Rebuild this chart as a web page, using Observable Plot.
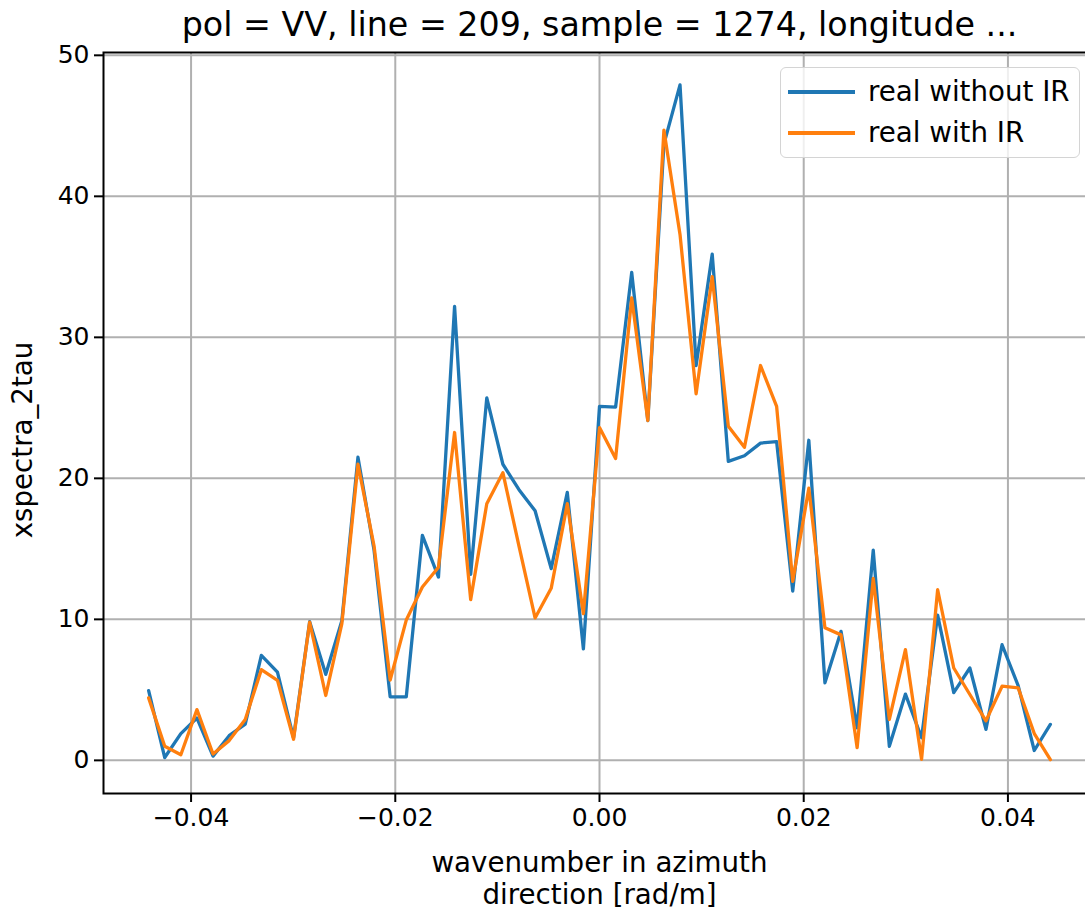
<!DOCTYPE html>
<html>
<head>
<meta charset="utf-8">
<script src="https://cdn.jsdelivr.net/npm/d3@7"></script>
<script src="https://cdn.jsdelivr.net/npm/@observablehq/plot@0.6"></script>
<style>
  html, body { margin: 0; padding: 0; overflow: hidden; background: white; }
  #wrap { position: relative; width: 1085px; height: 914px; overflow: hidden; }
  #legend {
    position: absolute; left: 780px; top: 67px; width: 300px; height: 91px;
    box-sizing: border-box; border: 1.5px solid #d4d4d4; border-radius: 6px;
    background: rgba(255,255,255,0.8);
    font-family: "DejaVu Sans", sans-serif; font-size: 27.7px; color: #000;
  }
  .item { position: absolute; left: 0; height: 32px; width: 100%; }
  .item .sw { position: absolute; left: 7px; width: 67px; height: 3.5px; top: 14px; }
  .item .lb { position: absolute; left: 87px; top: 0; line-height: 32px; white-space: nowrap; }
</style>
</head>
<body>
<div id="wrap"></div>
<script>
// wavenumber in azimuth direction [rad/m]
const kAz = [
  -0.044156, -0.042579, -0.041002, -0.039425, -0.037848, -0.036271, -0.034694, -0.033117,
  -0.031540, -0.029963, -0.028386, -0.026809, -0.025232, -0.023655, -0.022078, -0.020501,
  -0.018924, -0.017347, -0.015770, -0.014193, -0.012616, -0.011039, -0.009462, -0.007885,
  -0.006308, -0.004731, -0.003154, -0.001577, 0,
  0.001577, 0.003154, 0.004731, 0.006308, 0.007885, 0.009462, 0.011039, 0.012616,
  0.014193, 0.015770, 0.017347, 0.018924, 0.020501, 0.022078, 0.023655, 0.025232,
  0.026809, 0.028386, 0.029963, 0.031540, 0.033117, 0.034694, 0.036271, 0.037848,
  0.039425, 0.041002, 0.042579, 0.044156
];
const realWithoutIR = [
  4.95, 0.2, 1.9, 3.0, 0.3, 1.75, 2.57, 7.45, 6.26, 1.6,
  9.83, 6.1, 9.9, 21.5, 14.9, 4.5, 4.5, 15.95, 13.0, 32.2,
  13.2, 25.7, 21.0, 19.2, 17.7, 13.6, 19.0, 7.9, 25.1, 25.05,
  34.6, 24.1, 43.7, 47.9, 28.0, 35.9, 21.2, 21.6, 22.5, 22.6,
  12.0, 22.7, 5.5, 9.15, 2.3, 14.9, 1.0, 4.7, 1.6, 10.3,
  4.8, 6.55, 2.2, 8.2, 5.3, 0.7, 2.55
];
const realWithIR = [
  4.43, 1.0, 0.4, 3.6, 0.45, 1.4, 2.9, 6.43, 5.67, 1.5,
  9.8, 4.6, 9.7, 21.0, 15.2, 5.7, 9.95, 12.3, 13.7, 23.25,
  11.4, 18.2, 20.4, 15.2, 10.1, 12.2, 18.2, 10.4, 23.6, 21.4,
  32.8, 24.1, 44.7, 37.3, 26.0, 34.3, 23.7, 22.2, 28.0, 25.1,
  12.7, 19.3, 9.4, 8.9, 0.9, 12.9, 2.9, 7.85, 0.07, 12.1,
  6.55, 4.67, 2.8, 5.26, 5.14, 1.9, 0.05
];
const seriesNames = ["real without IR", "real with IR"];
const seriesColors = ["#1f77b4", "#ff7f0e"];
const xTicks = [-0.04, -0.02, 0, 0.02, 0.04];
const yTicks = [0, 10, 20, 30, 40, 50];
const titleText = "pol = VV, line = 209, sample = 1274, longitude ...";
const xLabel = "wavenumber in azimuth\ndirection [rad/m]";
const yLabel = "xspectra_2tau";

const rows = [];
[realWithoutIR, realWithIR].forEach((vals, s) => {
  vals.forEach((v, i) => rows.push({k: kAz[i], v, s: seriesNames[s]}));
});

const fmtX = d3.format(".2f");
const font = "DejaVu Sans, sans-serif";

const chart = Plot.plot({
  width: 1095,
  height: 914,
  marginLeft: 103,
  marginRight: 0,
  marginTop: 52,
  marginBottom: 121,
  style: {fontFamily: font, fontSize: "25px", background: "white", maxWidth: "none", overflow: "hidden"},
  x: {domain: [-0.048576, 0.048576]},
  y: {domain: [-2.35, 50.2]},
  color: {domain: seriesNames, range: seriesColors},
  marks: [
    Plot.gridX(xTicks, {stroke: "#b0b0b0", strokeOpacity: 1, strokeWidth: 2}),
    Plot.gridY(yTicks, {stroke: "#b0b0b0", strokeOpacity: 1, strokeWidth: 2}),
    Plot.axisX(xTicks, {tickSize: 9, tickPadding: 6, strokeWidth: 2, tickFormat: fmtX, fontSize: 25, label: null, fill: "#000"}),
    Plot.axisY(yTicks, {tickSize: 9, tickPadding: 5, strokeWidth: 2, tickFormat: d3.format("d"), fontSize: 25, label: null, fill: "#000"}),
    Plot.line(rows, {x: "k", y: "v", z: "s", stroke: "s", strokeWidth: 3.3}),
    Plot.frame({stroke: "#000", strokeWidth: 2}),
    Plot.text([titleText], {frameAnchor: "top", lineAnchor: "top", dy: -40, fontSize: 33.3, fill: "#000"}),
    Plot.text([xLabel], {frameAnchor: "bottom", lineAnchor: "bottom", dy: 110, fontSize: 27.7, lineHeight: 1.13, fill: "#000"}),
    Plot.text([yLabel], {frameAnchor: "left", textAnchor: "middle", lineAnchor: "middle", dx: -80, dy: 17, rotate: -90, fontSize: 27.7, fill: "#000"})
  ]
});

const wrap = document.getElementById("wrap");
wrap.appendChild(chart);

const legend = document.createElement("div");
legend.id = "legend";
seriesNames.forEach((name, i) => {
  const item = document.createElement("div");
  item.className = "item";
  item.style.top = (8 + i * 41) + "px";
  const sw = document.createElement("div");
  sw.className = "sw";
  sw.style.background = seriesColors[i];
  const lb = document.createElement("div");
  lb.className = "lb";
  lb.textContent = name;
  item.appendChild(sw);
  item.appendChild(lb);
  legend.appendChild(item);
});
wrap.appendChild(legend);
</script>
</body>
</html>
